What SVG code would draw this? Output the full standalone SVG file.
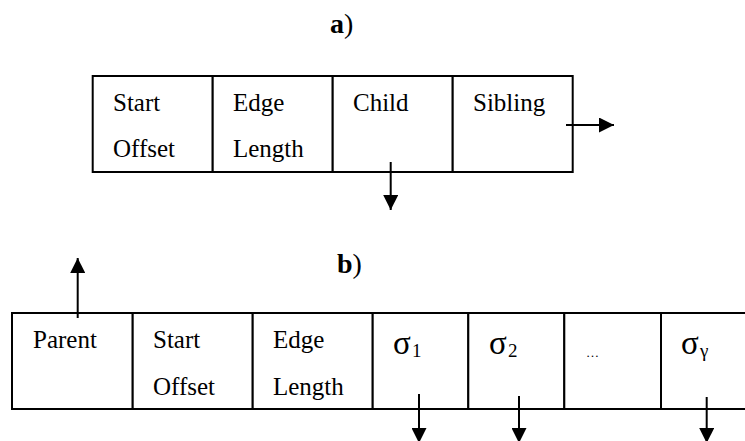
<svg xmlns="http://www.w3.org/2000/svg" width="745" height="441" viewBox="0 0 745 441">
<style>
.cell{fill:#fff;stroke:#000;stroke-width:2}
text{font-family:'Liberation Serif','DejaVu Serif',serif;fill:#000}
.t{font-size:25px}
.g{font-size:33px}
.sub{font-size:19px}
.lbl{font-size:28px}
.c{stroke:#000;stroke-width:2;fill:none;marker-end:url(#ah)}
</style>
<defs>
<marker id="ah" viewBox="0 0 15 15" refX="15" refY="7.5" markerWidth="15" markerHeight="15" markerUnits="userSpaceOnUse" orient="auto">
<path d="M0,0 L15,7.5 L0,15 z" fill="#000"/>
</marker>
</defs>
<rect width="745" height="441" fill="#fff"/>
<g id="label-a"><text class="lbl" x="330" y="33"><tspan font-weight="bold">a</tspan>)</text></g>
<g id="label-b"><text class="lbl" x="337" y="273"><tspan font-weight="bold">b</tspan>)</text></g>

<g id="a-start-offset"><rect class="cell" x="92.7" y="76" width="120" height="96"/><text class="t" x="113" y="111">Start</text><text class="t" x="113" y="157">Offset</text></g>
<g id="a-edge-length"><rect class="cell" x="212.7" y="76" width="120" height="96"/><text class="t" x="233" y="111">Edge</text><text class="t" x="233" y="157">Length</text></g>
<g id="a-child"><rect class="cell" x="332.7" y="76" width="120" height="96"/><text class="t" x="353" y="111">Child</text></g>
<g id="a-sibling"><rect class="cell" x="452.7" y="76" width="120" height="96"/><text class="t" x="473" y="111">Sibling</text></g>

<g id="b-parent"><rect class="cell" x="12" y="313" width="120.7" height="96"/><text class="t" x="33" y="348">Parent</text></g>
<g id="b-start-offset"><rect class="cell" x="132.7" y="313" width="120" height="96"/><text class="t" x="153" y="348">Start</text><text class="t" x="153" y="395">Offset</text></g>
<g id="b-edge-length"><rect class="cell" x="252.7" y="313" width="120" height="96"/><text class="t" x="273" y="348">Edge</text><text class="t" x="273" y="395">Length</text></g>
<g id="b-sigma1"><rect class="cell" x="372.7" y="313" width="95.6" height="96"/><text class="g" x="393" y="354">σ</text><text class="sub" x="412" y="357">1</text></g>
<g id="b-sigma2"><rect class="cell" x="468.3" y="313" width="96" height="96"/><text class="g" x="489" y="354">σ</text><text class="sub" x="508" y="357">2</text></g>
<g id="b-dots"><rect class="cell" x="564.3" y="313" width="96.7" height="96"/><text x="586" y="357" font-size="13">…</text></g>
<g id="b-sigmagamma"><rect class="cell" x="661" y="313" width="90" height="96"/><text class="g" x="681" y="354">σ</text><text class="sub" x="700" y="357">γ</text></g>

<g id="connectors">
<line class="c" x1="390.7" y1="162" x2="390.7" y2="210"/>
<line class="c" x1="566" y1="125" x2="614" y2="125"/>
<line class="c" x1="77.7" y1="318" x2="77.7" y2="258"/>
<line class="c" x1="419" y1="394" x2="419" y2="443"/>
<line class="c" x1="519" y1="396" x2="519" y2="443"/>
<line class="c" x1="706.7" y1="397" x2="706.7" y2="443"/>
</g>
</svg>
